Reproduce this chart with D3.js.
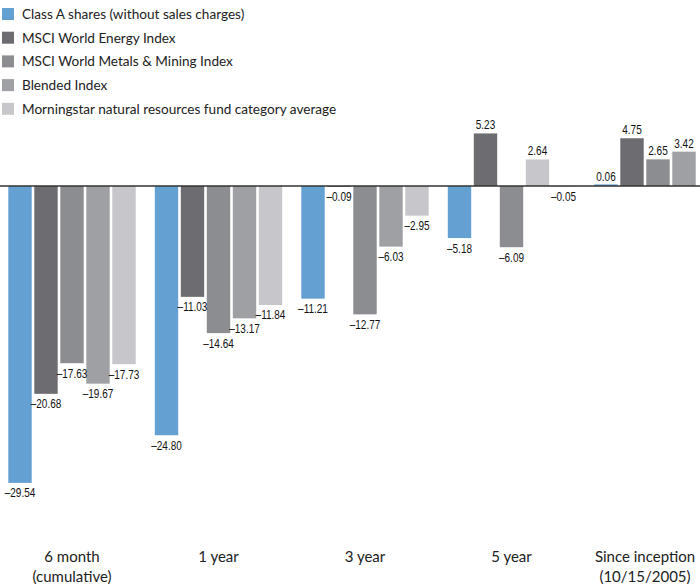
<!DOCTYPE html>
<html><head><meta charset="utf-8">
<script src="https://cdn.jsdelivr.net/npm/d3@7/dist/d3.min.js"></script>
<style>body{margin:0;background:#fff}svg{display:block}</style>
</head><body>
<svg id="c" width="700" height="584"></svg>
<script>
const categories = ["6 month|(cumulative)", "1 year", "3 year", "5 year", "Since inception|(10/15/2005)"];
const seriesNames = ["Class A shares (without sales charges)", "MSCI World Energy Index", "MSCI World Metals & Mining Index", "Blended Index", "Morningstar natural resources fund category average"];
const classA     = [-29.54, -24.80, -11.21, -5.18, 0.06];
const energy     = [-20.68, -11.03, -0.09, 5.23, 4.75];
const metals     = [-17.63, -14.64, -12.77, -6.09, 2.65];
const blended    = [-19.67, -13.17, -6.03, 2.64, 3.42];
const morningstar= [-17.73, -11.84, -2.95, -0.05, null];
const seriesValues = [classA, energy, metals, blended, morningstar];
const colors = ["#64a0d2", "#6d6d71", "#8b8d90", "#9ea0a3", "#c7c7cb"];

const svg = d3.select("#c");
const x0 = d3.scaleBand().domain(d3.range(categories.length)).range([7, 723]).paddingInner(0.1126).paddingOuter(0);
const x1 = d3.scaleBand().domain(d3.range(seriesNames.length)).range([0, x0.bandwidth()]).paddingInner(0.1).paddingOuter(0.05);
const y = d3.scaleLinear().domain([-30, 10]).range([487.5, 85.5]);
const fmt = v => (v < 0 ? "\u2013" : "") + Math.abs(v).toFixed(2);

// legend
const lg = svg.append("g");
seriesNames.forEach((n, i) => {
  const cy = 14 + i * 23.7;
  lg.append("rect").attr("x", 2).attr("y", cy - 6).attr("width", 12).attr("height", 12).attr("fill", colors[i]);
  lg.append("text").attr("x", 22).attr("y", cy + 5).text(n)
    .attr("font-family", "Lato, 'Open Sans', sans-serif").attr("font-size", 13.6).attr("fill", "#222");
});

// bars
const bars = [];
categories.forEach((c, ci) => {
  seriesValues.forEach((vals, si) => {
    const v = vals[ci];
    if (v === null) return;
    bars.push({ci, si, v});
  });
});
// in the printed chart, the 5-year Blended bar carries the lightest tint
const fillFor = d => (d.ci === 3 && d.si === 3) ? colors[4] : colors[d.si];

const g = svg.append("g");
g.selectAll("rect.bar").data(bars).join("rect").attr("class", "bar")
  .attr("x", d => x0(d.ci) + x1(d.si))
  .attr("width", x1.bandwidth())
  .attr("y", d => Math.min(y(d.v), y(0)) - (d.v > 0 && d.v < 0.5 ? 1 : 0))
  .attr("height", d => Math.abs(y(d.v) - y(0)) + (d.v > 0 && d.v < 0.5 ? 1 : 0))
  .attr("fill", fillFor);

g.selectAll("text.val").data(bars).join("text").attr("class", "val")
  .attr("transform", d => {
    const cx = x0(d.ci) + x1(d.si) + x1.bandwidth() / 2;
    const ty = d.v >= 0 ? y(d.v) - 4 : y(d.v) + 14.5;
    return `translate(${cx},${ty}) scale(0.8,1)`;
  })
  .attr("text-anchor", "middle")
  .attr("font-family", "'Liberation Sans', Arial, sans-serif")
  .attr("font-size", 12.5).attr("fill", "#111")
  .text(d => fmt(d.v));

// zero line
svg.append("line").attr("x1", 0).attr("x2", 700).attr("y1", y(0)).attr("y2", y(0))
  .attr("stroke", "#333").attr("stroke-width", 1.5);

// category labels centered on present bars
categories.forEach((c, ci) => {
  const present = seriesValues.map((vals, si) => vals[ci] === null ? null : si).filter(s => s !== null);
  const left = x0(ci) + x1(present[0]);
  const right = x0(ci) + x1(present[present.length - 1]) + x1.bandwidth();
  const cx = (left + right) / 2;
  const lines = c.split("|");
  const t = svg.append("text").attr("text-anchor", "middle")
    .attr("font-family", "Lato, 'Open Sans', sans-serif").attr("font-size", 15).attr("fill", "#222");
  lines.forEach((l, li) => t.append("tspan").attr("x", cx).attr("y", 562 + li * 19.5).text(l));
});
</script>
</body></html>
